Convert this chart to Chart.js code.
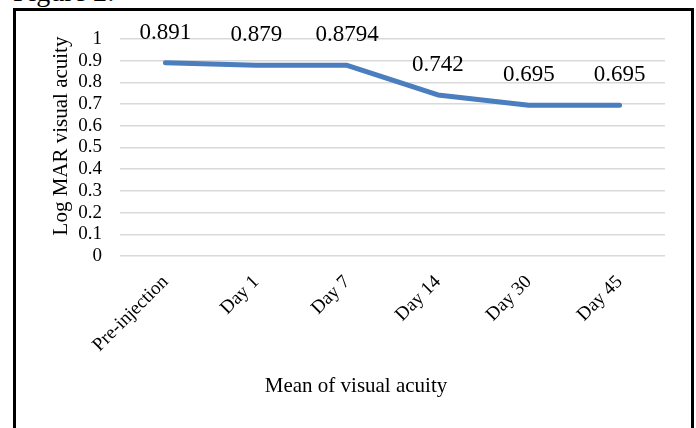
<!DOCTYPE html>
<html>
<head>
<meta charset="utf-8">
<script src="https://cdn.jsdelivr.net/npm/chart.js@4/dist/chart.umd.min.js"></script>
<style>
  body { margin: 0; background: #fff; overflow: hidden; }
  #fig { position: absolute; left: 13px; top: -22px; font: 28px "Liberation Serif", serif; line-height: 28px; color: #000; }
  #box { position: absolute; left: 13px; top: 8px; width: 675px; height: 460px; border: 3px solid #000; }
  #wrap { position: absolute; left: 0; top: 0; width: 696px; height: 428px; }
</style>
</head>
<body>
<div id="fig">Figure 2:</div>
<div id="box"></div>
<div id="wrap"><canvas id="visualChart" width="696" height="428"></canvas></div>
<script>
// data
const days = ['Pre-injection', 'Day 1', 'Day 7', 'Day 14', 'Day 30', 'Day 45'];
const logMar = [0.891, 0.879, 0.879, 0.742, 0.695, 0.695];
const pointLabels = ['0.891', '0.879', '0.8794', '0.742', '0.695', '0.695'];
const yMin = 0;
const yMax = 1;
const yStep = 0.1;

const serif = '"Liberation Serif", "Times New Roman", serif';

// value labels above each point + the two axis titles
const labelPlugin = {
    id: 'labelPlugin',
    afterDatasetsDraw(chart) {
        const ctx = chart.ctx;
        const meta = chart.getDatasetMeta(0);
        ctx.save();
        ctx.font = '23px ' + serif;
        ctx.fillStyle = '#000';
        ctx.textAlign = 'center';
        ctx.textBaseline = 'middle';
        meta.data.forEach((pt, i) => {
            ctx.fillText(pointLabels[i], pt.x, pt.y - 30);
        });
        ctx.restore();
    },
    afterDraw(chart) {
        const ctx = chart.ctx;
        const area = chart.chartArea;
        ctx.save();
        ctx.fillStyle = '#000';
        ctx.textAlign = 'center';
        ctx.textBaseline = 'middle';
        ctx.font = '21px ' + serif;
        ctx.fillText('Mean of visual acuity', area.left + 236, area.bottom + 130);
        ctx.translate(area.left - 59, area.top + 97);
        ctx.rotate(-Math.PI / 2);
        ctx.fillText('Log MAR visual acuity', 0, 0);
        ctx.restore();
    }
};

const ctx = document.getElementById('visualChart').getContext('2d');
const visualChart = new Chart(ctx, {
    type: 'line',
    data: {
        labels: days,
        datasets: [{
            label: 'Log MAR visual acuity',
            data: logMar,
            borderColor: '#4a7ebf',
            backgroundColor: '#4a7ebf',
            borderWidth: 5,
            borderCapStyle: 'round',
            borderJoinStyle: 'round',
            pointRadius: 0,
            tension: 0
        }]
    },
    options: {
        responsive: false,
        animation: false,
        layout: { padding: { top: 39, right: 31, left: 0, bottom: 0 } },
        plugins: {
            legend: { display: false },
            tooltip: { enabled: false }
        },
        scales: {
            x: {
                offset: true,
                grid: { display: false },
                border: { display: false },
                ticks: {
                    autoSkip: false,
                    maxRotation: 45,
                    minRotation: 45,
                    padding: 7,
                    color: '#000',
                    font: { family: serif, size: 19 }
                },
                afterFit(scale) { scale.height = 172; }
            },
            y: {
                min: yMin,
                max: yMax,
                grid: { color: '#d9d9d9', lineWidth: 1.5, drawTicks: false },
                border: { display: false },
                ticks: {
                    stepSize: yStep,
                    autoSkip: false,
                    padding: 18,
                    color: '#000',
                    font: { family: serif, size: 19 },
                    callback: v => String(Math.round(v * 10) / 10)
                },
                afterFit(scale) { scale.width = 120; }
            }
        }
    },
    plugins: [labelPlugin]
});
</script>
</body>
</html>
